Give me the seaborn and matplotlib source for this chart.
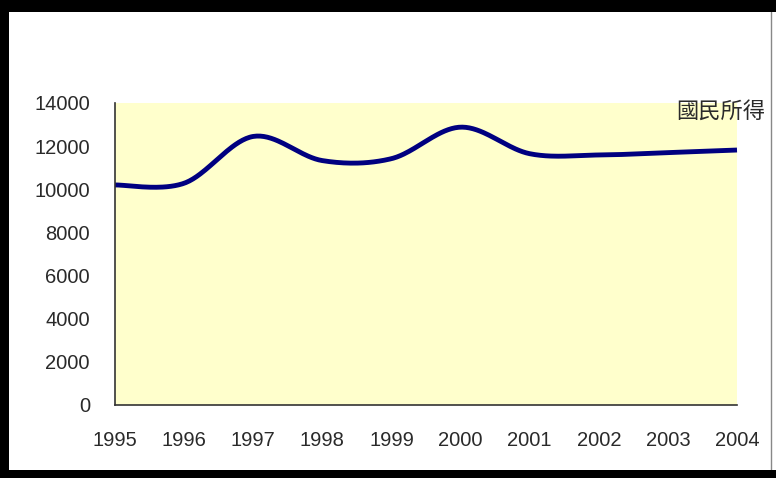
import numpy as np
import pandas as pd
import matplotlib
matplotlib.use("Agg")
import matplotlib.pyplot as plt
import seaborn as sns
from matplotlib.patches import Rectangle
from matplotlib.lines import Line2D

# ---- data ----
years = [1995, 1996, 1997, 1998, 1999, 2000, 2001, 2002, 2003, 2004]
income = [10200, 10280, 12450, 11330, 11420, 12880, 11650, 11590, 11700, 11820]
series_label = "國民所得"
yticks = [0, 2000, 4000, 6000, 8000, 10000, 12000, 14000]

sns.set_theme(style="white")
plt.rcParams['font.family'] = ['Liberation Sans', 'DejaVu Sans']


def smooth_curve(xv, yv, n=40):
    """Excel-like smoothed line (Catmull-Rom Bezier) through the data points."""
    P = np.column_stack([np.asarray(xv, float), np.asarray(yv, float)])
    ext = np.vstack([P[0], P, P[-1]])
    out = []
    t = np.linspace(0, 1, n)[:, None]
    for i in range(len(P) - 1):
        p0, p1, p2, p3 = ext[i], ext[i + 1], ext[i + 2], ext[i + 3]
        c1 = p1 + (p2 - p0) / 6.0
        c2 = p2 - (p3 - p1) / 6.0
        seg = ((1 - t) ** 3) * p1 + 3 * ((1 - t) ** 2) * t * c1 + 3 * (1 - t) * t ** 2 * c2 + t ** 3 * p2
        out.append(seg if i == 0 else seg[1:])
    out = np.vstack(out)
    return out[:, 0], out[:, 1]


sx, sy = smooth_curve(years, income)
df = pd.DataFrame({"year": sx, "value": sy})

fig = plt.figure(figsize=(7.76, 4.78), dpi=100)
fig.patch.set_facecolor("white")

ax = fig.add_axes([115 / 776, 73 / 478, (737 - 115) / 776, (405 - 103) / 478])
ax.set_facecolor("#FFFFCC")

sns.lineplot(data=df, x="year", y="value", sort=False, ax=ax,
             color="#000080", linewidth=3.5, clip_on=False)
for ln in ax.lines:
    ln.set_solid_capstyle("butt")

ax.set_xlim(years[0], years[-1])
ax.set_ylim(0, 14000)
ax.set_xticks(years)
ax.set_xticklabels([str(y) for y in years])
ax.set_yticks(yticks)
ax.set_yticklabels([str(v) for v in yticks])
ax.set_xlabel("")
ax.set_ylabel("")

for s in ["top", "right"]:
    ax.spines[s].set_visible(False)
for s in ["left", "bottom"]:
    ax.spines[s].set_visible(True)
    ax.spines[s].set_color("#333333")
    ax.spines[s].set_linewidth(1.2)

ax.tick_params(axis="both", direction="in", length=4.5, width=1.2, color="#333333",
               labelsize=14.5, labelcolor="#2a2a2a")
ax.tick_params(axis="x", pad=19)
ax.tick_params(axis="y", pad=18)
ax.grid(False)

fig.text(765 / 776, 1 - 111 / 478, series_label, ha="right", va="center",
         fontsize=16, color="#2a2a2a", family=["Noto Sans CJK TC", "DejaVu Sans"])

# outer frame (black bands + thin grey right edge)
fig.patches.append(Rectangle((0, 1 - 12 / 478), 1, 12 / 478, transform=fig.transFigure,
                             facecolor="black", edgecolor="none", zorder=10))
fig.patches.append(Rectangle((0, 0), 9 / 776, 1, transform=fig.transFigure,
                             facecolor="black", edgecolor="none", zorder=10))
fig.patches.append(Rectangle((0, 0), 1, 8 / 478, transform=fig.transFigure,
                             facecolor="black", edgecolor="none", zorder=10))
fig.lines.append(Line2D([771 / 776, 771 / 776], [0, 1], transform=fig.transFigure,
                        color="#888888", linewidth=1, zorder=9))

fig.savefig("out.png", dpi=100, facecolor=fig.get_facecolor())
